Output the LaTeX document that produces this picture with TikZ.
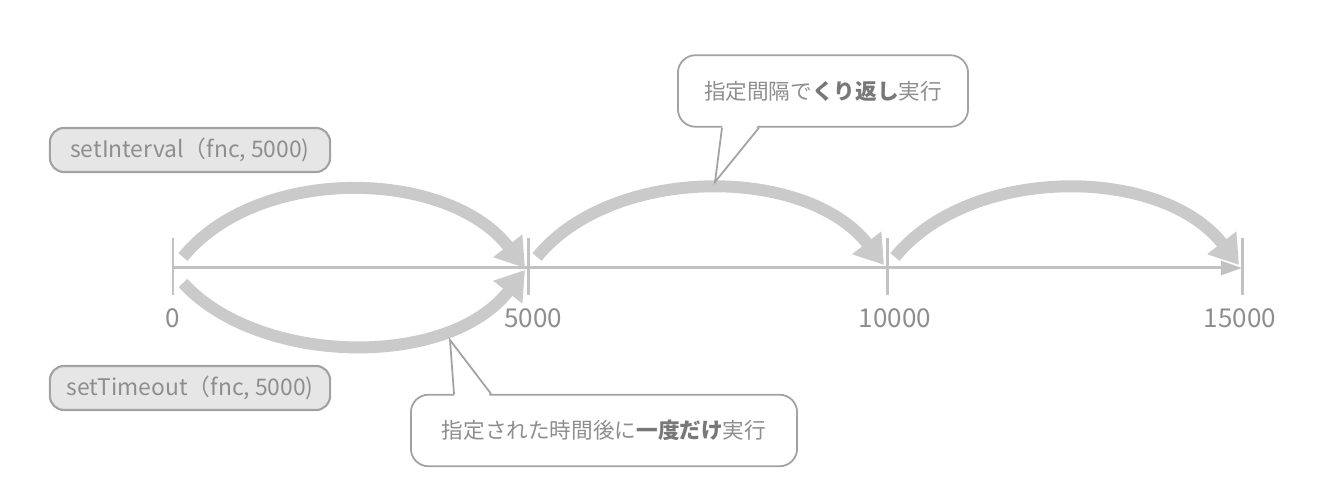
\documentclass[tikz,border=0pt]{standalone}
\usepackage{fontspec}
\setmainfont{Noto Sans CJK JP}
\usetikzlibrary{calc,positioning,arrows.meta}

\definecolor{axisgray}{HTML}{C2C2C2}
\definecolor{arcgray}{HTML}{CACACA}
\definecolor{textgray}{HTML}{8E8E8E}
\definecolor{boldgray}{HTML}{787878}
\definecolor{boxgray}{HTML}{E6E6E6}
\definecolor{edgegray}{HTML}{A2A2A2}

\tikzset{
  fnbox/.style={draw=edgegray, fill=boxgray, rounded corners=4pt, line width=0.6pt,
    minimum width=2.8cm, minimum height=0.44cm, inner sep=0pt,
    text=textgray, font=\fontsize{6.5}{8}\selectfont},
  callout/.style={draw=edgegray, fill=white, rounded corners=5pt, line width=0.5pt,
    minimum height=0.715cm, inner sep=0pt,
    text=textgray, font=\fontsize{6.15}{7}\selectfont},
  jump/.style={arcgray, line width=3.4pt, -{Triangle[length=8pt,width=10pt]}},
  tick/.style={axisgray, line width=0.85pt},
  num/.style={text=textgray, font=\fontsize{7.4}{8}\selectfont, inner sep=0pt},
}
\newcommand{\keyword}[1]{{\bfseries\color{boldgray}#1}}

\begin{document}
\begin{tikzpicture}[x=0.01cm,y=-0.01cm]
  \useasboundingbox (0,0) rectangle (1336,480);

  % time axis
  \coordinate (t0) at (173,268);
  \coordinate (t1) at (528,268);
  \coordinate (t2) at (887,268);
  \coordinate (t3) at (1242,268);

  \draw[axisgray, line width=0.85pt, -{Triangle[length=6pt,width=4pt]}] (t0) -- (t3);

  \foreach \t/\lab/\dx in {t0/0/0, t1/5000/5, t2/10000/8, t3/15000/-2}{
    \draw[tick] ($(\t)+(0,-30)$) -- ($(\t)+(0,27)$);
    \node[num] at ($(\t)+(\dx,50)$) {\lab};
  }

  %% jumps
  \draw[jump] ($(t0)+(10,-11)$) .. controls +(75,-92) and +(-78,-100) .. ($(t1)+(-3,0)$);
  \draw[jump] ($(t0)+(10,15)$) .. controls +(75,82) and +(-78,100) .. ($(t1)+(-3,2)$);
  \draw[jump] ($(t1)+(9,-11)$) .. controls +(75,-92) and +(-78,-100) .. ($(t2)+(-3,-3)$);
  \draw[jump] ($(t2)+(8,-11)$) .. controls +(75,-92) and +(-78,-100) .. ($(t3)+(-3,-3)$);

  %% functions
  \node[fnbox] (intv) at (190,150) {setInterval（fnc, 5000)};
  \node[fnbox] (tout) at (190,388) {setTimeout（fnc, 5000)};

  %% callouts
  \node[callout, minimum width=2.9cm] (rep) at (823,91)
    {指定間隔で\keyword{くり返し}実行};
  \coordinate (reptip) at (715,182);
  \fill[white] ($(rep.south west)+(45.5,-3)$) -- (reptip) -- ($(rep.south west)+(81.5,-3)$) -- cycle;
  \draw[edgegray, line width=0.5pt] ($(rep.south west)+(45,0)$) -- (reptip) -- ($(rep.south west)+(82,0)$);

  \node[callout, minimum width=3.86cm] (once) at (604,430.5)
    {指定された時間後に\keyword{一度だけ}実行};
  \coordinate (oncetip) at (450,340);
  \fill[white] ($(once.north west)+(44.5,3)$) -- (oncetip) -- ($(once.north west)+(80.5,3)$) -- cycle;
  \draw[edgegray, line width=0.5pt] ($(once.north west)+(44,0)$) -- (oncetip) -- ($(once.north west)+(81,0)$);

\end{tikzpicture}
\end{document}
